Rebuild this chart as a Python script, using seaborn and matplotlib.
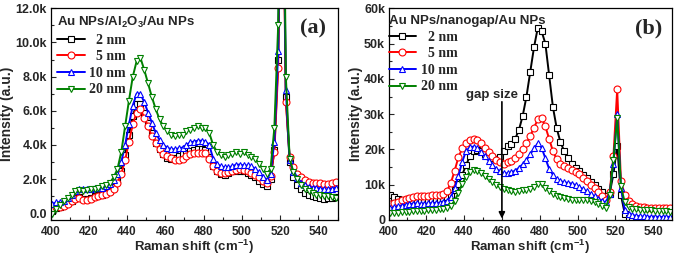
import numpy as np
import matplotlib
matplotlib.use('Agg')
import matplotlib.pyplot as plt
import seaborn as sns
from matplotlib.ticker import MultipleLocator, FuncFormatter
from matplotlib.font_manager import FontProperties

# ---------------- data (intensity in k counts) ----------------
shift = list(range(401, 550, 2))          # Raman shift, cm^-1
gap_labels = ['  2 nm', '  5 nm', '10 nm', '20 nm']

# Panel (a): Au NPs / Al2O3 / Au NPs
a_2nm = [0.15, 0.3, 0.4, 0.5, 0.6, 0.75, 0.9, 0.95, 0.85, 0.85,
         0.9, 1.0, 1.05, 1.1, 1.2, 1.3, 1.55, 1.95, 2.5, 3.4,
         4.6, 5.7, 6.4, 6.4, 5.9, 5.3, 4.7, 4.1, 3.75, 3.45,
         3.25, 3.2, 3.25, 3.35, 3.45, 3.55, 3.65, 3.7, 3.75, 3.75,
         3.7, 3.3, 2.75, 2.5, 2.3, 2.25, 2.35, 2.45, 2.5, 2.5,
         2.45, 2.35, 2.25, 2.1, 1.9, 1.7, 1.6, 2.0, 3.7, 9.0,
         26.0, 6.8, 3.0, 2.1, 1.65, 1.4, 1.2, 1.1, 1.0, 0.95,
         0.9, 0.85, 0.9, 0.9, 0.95]
a_5nm = [0.25, 0.35, 0.4, 0.45, 0.55, 0.7, 0.85, 0.9, 0.8, 0.8,
         0.85, 0.95, 1.0, 1.05, 1.15, 1.25, 1.45, 1.8, 2.3, 3.1,
         4.2, 5.2, 5.9, 6.1, 5.6, 5.1, 4.5, 4.1, 3.75, 3.5,
         3.35, 3.25, 3.15, 3.1, 3.2, 3.35, 3.45, 3.55, 3.55, 3.55,
         3.55, 3.2, 2.75, 2.5, 2.35, 2.35, 2.4, 2.45, 2.55, 2.6,
         2.55, 2.45, 2.35, 2.25, 2.1, 1.9, 1.8, 2.2, 3.6, 8.5,
         24.0, 6.5, 3.3, 2.7, 2.3, 2.1, 1.95, 1.85, 1.8, 1.8,
         1.75, 1.7, 1.7, 1.75, 1.85]
a_10nm = [0.55, 0.65, 0.65, 0.7, 0.9, 1.1, 1.3, 1.4, 1.4, 1.4,
          1.45, 1.5, 1.5, 1.5, 1.6, 1.7, 1.95, 2.3, 3.0, 4.0,
          5.2, 6.3, 7.0, 7.0, 6.5, 5.9, 5.3, 4.7, 4.3, 4.0,
          3.85, 3.75, 3.75, 3.8, 3.85, 4.0, 4.15, 4.2, 4.25, 4.25,
          4.2, 4.0, 3.2, 2.9, 2.75, 2.7, 2.7, 2.75, 2.85, 2.85,
          2.8, 2.8, 2.75, 2.6, 2.4, 2.15, 1.95, 2.3, 4.2, 9.5,
          27.0, 7.2, 3.1, 2.4, 2.05, 1.8, 1.65, 1.55, 1.5, 1.5,
          1.45, 1.4, 1.4, 1.45, 1.5]
a_20nm = [-0.05, 0.25, 0.5, 0.7, 0.9, 1.1, 1.3, 1.35, 1.3, 1.35,
          1.4, 1.4, 1.5, 1.6, 1.65, 1.8, 2.1, 2.6, 3.6, 5.1,
          6.6, 8.0, 8.9, 9.1, 8.4, 7.6, 6.8, 6.1, 5.5, 5.1,
          4.8, 4.6, 4.5, 4.6, 4.6, 4.8, 4.9, 5.0, 5.1, 5.0,
          5.0, 4.7, 4.0, 3.6, 3.4, 3.3, 3.4, 3.5, 3.6, 3.5,
          3.6, 3.4, 3.3, 3.2, 2.9, 2.6, 2.3, 2.6, 5.0, 11.0,
          30.0, 8.0, 3.2, 2.4, 2.0, 1.65, 1.45, 1.3, 1.2, 1.1,
          1.05, 1.0, 1.0, 0.95, 0.9]

# Panel (b): Au NPs / nanogap / Au NPs
b_2nm = [7.0, 6.4, 6.0, 5.6, 5.4, 5.5, 5.7, 5.8, 5.6, 5.6,
         5.7, 5.8, 5.9, 6.0, 6.2, 6.6, 7.2, 8.4, 10.2, 12.8,
         15.5, 18.0, 19.5, 19.8, 19.5, 18.8, 18.0, 17.5, 17.3, 17.8,
         19.5, 21.0, 21.5, 23.0, 25.5, 29.5, 35.0, 42.0, 49.0, 54.5,
         53.5, 50.0, 41.0, 32.0, 26.0, 22.0, 19.5, 17.5, 16.0, 14.8,
         13.8, 12.8, 11.8, 10.8, 9.8, 8.8, 7.8, 6.8, 7.5, 13.0,
         21.0, 7.0, 1.8, 0.6, 0.2, 0.05, 0.0, 0.0, 0.0, 0.0,
         0.05, 0.1, 0.1, 0.15, 0.2]
b_5nm = [4.4, 4.8, 5.2, 5.6, 6.0, 6.3, 6.6, 6.8, 6.7, 6.8,
         6.9, 7.0, 7.1, 7.2, 7.4, 8.3, 10.5, 14.0, 17.8, 20.3,
         21.8, 22.6, 22.9, 22.7, 21.8, 20.5, 19.2, 18.0, 17.0, 16.3,
         16.0, 16.3, 16.8, 17.6, 18.7, 20.0, 21.7, 23.8, 26.2, 28.5,
         28.8, 26.5, 23.0, 19.5, 17.2, 16.0, 15.3, 14.8, 14.2, 13.6,
         13.0, 12.0, 11.0, 10.0, 9.0, 8.0, 6.8, 5.8, 8.0, 18.0,
         37.0, 11.0, 7.2, 5.5, 4.6, 4.1, 3.8, 3.6, 3.5, 3.4,
         3.4, 3.35, 3.3, 3.3, 3.3]
b_10nm = [3.3, 3.6, 3.9, 4.1, 4.3, 4.5, 4.6, 4.7, 4.6, 4.6,
          4.7, 4.8, 4.8, 4.9, 5.0, 5.4, 6.5, 9.0, 12.5, 16.5,
          19.5, 20.6, 20.8, 20.3, 19.3, 18.0, 16.8, 15.5, 14.5, 13.8,
          13.3, 13.2, 13.5, 14.0, 14.8, 15.8, 17.0, 18.6, 20.3, 21.7,
          20.5, 17.5, 14.5, 12.8, 11.6, 11.0, 10.7, 10.5, 10.3, 9.9,
          9.3, 8.7, 8.1, 7.4, 6.7, 6.0, 5.4, 5.0, 7.5, 16.0,
          30.0, 9.0, 2.8, 1.8, 1.4, 1.2, 1.05, 1.0, 0.95, 0.9,
          0.9, 0.9, 0.85, 0.85, 0.85]
b_20nm = [1.9, 2.0, 2.1, 2.2, 2.3, 2.4, 2.5, 2.5, 2.6, 2.6,
          2.7, 2.8, 2.9, 3.0, 3.2, 3.4, 4.0, 5.5, 7.6, 10.3,
          12.3, 13.6, 14.2, 14.0, 13.3, 12.4, 11.5, 10.7, 10.0, 9.3,
          8.8, 8.4, 8.1, 8.0, 8.2, 8.4, 8.6, 8.9, 9.4, 10.1,
          10.2, 9.2, 8.2, 7.4, 6.8, 6.4, 6.1, 5.9, 5.8, 5.7,
          5.7, 5.7, 5.6, 5.4, 5.0, 4.6, 4.1, 3.4, 7.0, 17.0,
          29.0, 9.5, 5.0, 3.6, 3.2, 3.0, 2.9, 2.8, 2.75, 2.7,
          2.65, 2.6, 2.5, 2.45, 2.4]

panel_a = [a_2nm, a_5nm, a_10nm, a_20nm]
panel_b = [b_2nm, b_5nm, b_10nm, b_20nm]

colors = ['#000000', '#ff0000', '#0000ff', '#008000']
markers = ['s', 'o', '^', 'v']

# ---------------- style ----------------
sns.set_style('ticks')
plt.rcParams['font.family'] = ['Liberation Sans', 'DejaVu Sans']
plt.rcParams['font.weight'] = 'bold'
plt.rcParams['mathtext.fontset'] = 'custom'
plt.rcParams['mathtext.rm'] = 'Liberation Sans:bold'
plt.rcParams['mathtext.it'] = 'Liberation Sans:bold:italic'
plt.rcParams['mathtext.bf'] = 'Liberation Sans:bold'
plt.rcParams['axes.linewidth'] = 0.9

sans_b = FontProperties(family='Liberation Sans', weight='bold', size=9.5)
serif_b = FontProperties(family='Liberation Serif', weight='bold', size=10)
tag_font = FontProperties(family='Liberation Serif', weight='bold', size=16)

fig = plt.figure(figsize=(6.75, 2.58), dpi=100)
ax_a = fig.add_axes([50.5 / 675, 38 / 258, 287 / 675, 211.7 / 258])
ax_b = fig.add_axes([388.5 / 675, 38 / 258, 283.5 / 675, 211.7 / 258])


def draw_panel(ax, series, title, anchor):
    handles = []
    for vals, lab, c, m in zip(series, gap_labels, colors, markers):
        sns.lineplot(x=shift, y=vals, ax=ax, color=c, marker=m, markersize=5,
                     markerfacecolor='white', markeredgecolor=c,
                     markeredgewidth=0.8, linewidth=1.4, label=lab)
        handles.append(ax.lines[-1])
    ax.legend(handles, gap_labels, title=title, loc='upper left',
              bbox_to_anchor=anchor, frameon=False, prop=serif_b,
              title_fontproperties=sans_b, alignment='left',
              handlelength=2.0, handletextpad=0.3, labelspacing=0.26,
              borderpad=0.25, borderaxespad=0.0)
    ax.set_xlim(400, 550)
    ax.xaxis.set_major_locator(MultipleLocator(20))
    ax.xaxis.set_minor_locator(MultipleLocator(10))
    ax.tick_params(which='both', direction='in', top=False, right=False,
                   labelsize=9, width=0.8, pad=2.5)
    ax.tick_params(axis='x', which='major', pad=4.5, labelsize=8.5)
    ax.tick_params(which='major', length=3.5)
    ax.tick_params(which='minor', length=2)
    for lbl in ax.get_xticklabels() + ax.get_yticklabels():
        lbl.set_fontweight('bold')
    ax.set_xlabel('Raman shift (cm$^{-1}$)', fontsize=9.5, fontweight='bold', labelpad=0)
    ax.set_ylabel('Intensity (a.u.)', fontsize=10, fontweight='bold', labelpad=1)
    for s in ax.spines.values():
        s.set_visible(True)
        s.set_color('black')


draw_panel(ax_a, panel_a, 'Au NPs/Al$_2$O$_3$/Au NPs', (0.01, 0.985))
ax_a.set_ylim(-0.39, 12)
ax_a.yaxis.set_major_locator(MultipleLocator(2))
ax_a.yaxis.set_minor_locator(MultipleLocator(1))
ax_a.yaxis.set_major_formatter(FuncFormatter(lambda v, p: '0.0' if abs(v) < 1e-9 else f'{v:.1f}k'))
ax_a.text(0.96, 0.905, '(a)', transform=ax_a.transAxes, ha='right', va='center',
          fontproperties=tag_font)

draw_panel(ax_b, panel_b, 'Au NPs/nanogap/Au NPs', (-0.012, 0.985))
ax_b.set_ylim(0, 60)
ax_b.yaxis.set_major_locator(MultipleLocator(10))
ax_b.yaxis.set_minor_locator(MultipleLocator(5))
ax_b.yaxis.set_major_formatter(FuncFormatter(lambda v, p: '0' if abs(v) < 1e-9 else f'{v:.0f}k'))
ax_b.text(0.965, 0.905, '(b)', transform=ax_b.transAxes, ha='right', va='center',
          fontproperties=tag_font)
ax_b.annotate('', xy=(460, 0.4), xytext=(460, 33.5),
              arrowprops=dict(arrowstyle='-|>', color='black', lw=1.2,
                              mutation_scale=9, shrinkA=0, shrinkB=0))
ax_b.text(455, 35.4, 'gap size', ha='center', va='center',
          fontsize=9.5, fontweight='bold')

fig.savefig('out.png', dpi=100)
